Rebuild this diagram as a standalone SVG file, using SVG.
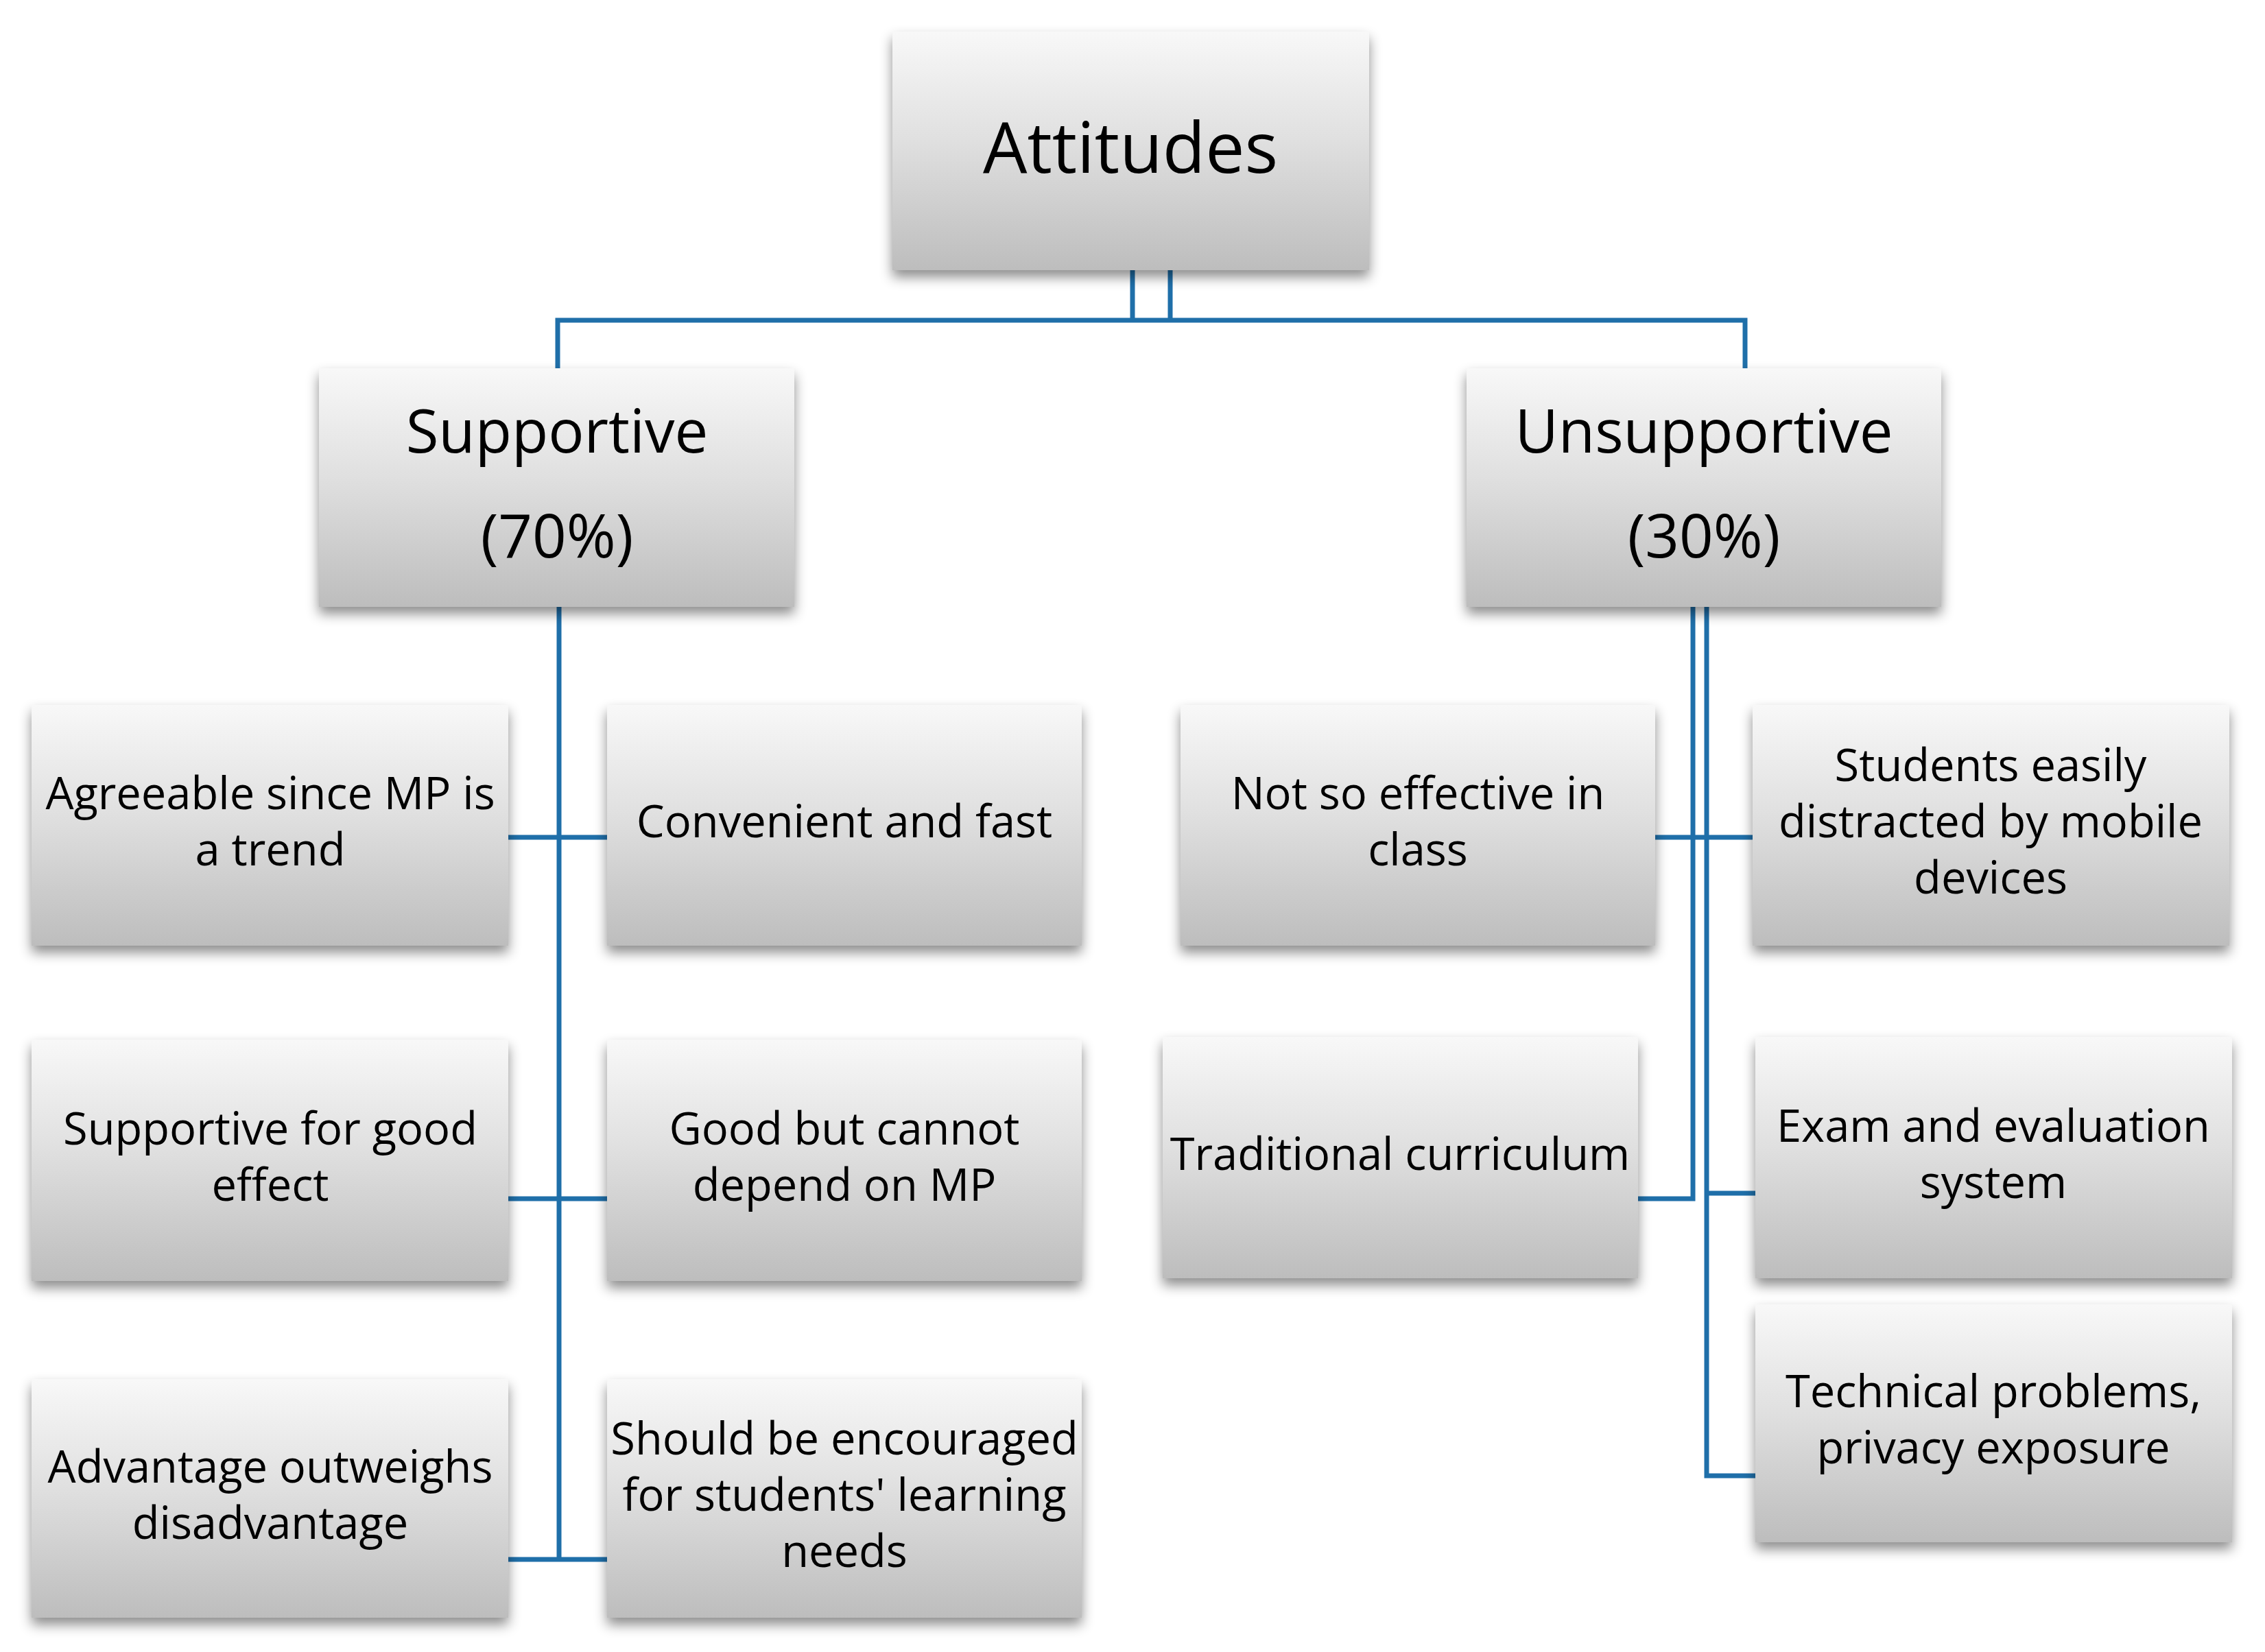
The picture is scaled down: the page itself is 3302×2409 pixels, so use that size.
<svg xmlns="http://www.w3.org/2000/svg" width="3302" height="2409" viewBox="0 0 3302 2409">
<style>
.box{fill:url(#g);filter:url(#sh)}
.t{font-family:"Open Sans","Noto Sans",sans-serif;font-size:65px;fill:#000;text-anchor:middle}
.big{font-size:87px}
.top{font-size:102px}
.c{fill:none;stroke:#1F6FA9;stroke-width:7}
</style>
<defs>
<linearGradient id="g" x1="0" y1="0" x2="0" y2="1">
<stop offset="0" stop-color="#f8f8f8"/>
<stop offset="0.45" stop-color="#e0e0e0"/>
<stop offset="1" stop-color="#bdbdbd"/>
</linearGradient>
<filter id="sh" x="-10%" y="-10%" width="120%" height="130%">
<feDropShadow dx="0" dy="10" stdDeviation="9" flood-color="#000" flood-opacity="0.45"/>
</filter>
</defs>
<rect width="3302" height="2409" fill="#fff"/>
<g id="connectors">
<path class="c" d="M1651 394V467M1706 394V467"/>
<path class="c" d="M813 537V467H2544V537"/>
<path class="c" stroke-width="11" d="M815 885V2277"/>
<path class="c" d="M741 1221H885M741 1748H885M741 2274H885"/>
<path class="c" d="M2468 885V1748H2388"/>
<path class="c" stroke-width="12" d="M2488 885V1221"/>
<path class="c" d="M2488 1221V2152H2559"/>
<path class="c" d="M2413 1221H2555"/>
<path class="c" d="M2488 1740H2559"/>
</g>
<g id="attitudes"><rect class="box" x="1301" y="46" width="695" height="348"/><text class="t top" x="1648" y="252">Attitudes</text></g>
<g id="supportive"><rect class="box" x="465" y="537" width="693" height="348"/><text class="t big" x="812" y="660">Supportive</text><text class="t big" x="812" y="813">(70%)</text></g>
<g id="unsupportive"><rect class="box" x="2138" y="537" width="692" height="348"/><text class="t big" x="2484" y="660">Unsupportive</text><text class="t big" x="2484" y="813">(30%)</text></g>
<g id="agreeable"><rect class="box" x="46" y="1028" width="695" height="351"/><text class="t" x="394" y="1180">Agreeable since MP is</text><text class="t" x="394" y="1262">a trend</text></g>
<g id="convenient"><rect class="box" x="885" y="1028" width="692" height="351"/><text class="t" x="1231" y="1221">Convenient and fast</text></g>
<g id="supportive-good"><rect class="box" x="46" y="1516" width="695" height="352"/><text class="t" x="394" y="1669">Supportive for good</text><text class="t" x="394" y="1751">effect</text></g>
<g id="good-but"><rect class="box" x="885" y="1516" width="692" height="352"/><text class="t" x="1231" y="1669">Good but cannot</text><text class="t" x="1231" y="1751">depend on MP</text></g>
<g id="advantage"><rect class="box" x="46" y="2011" width="695" height="348"/><text class="t" x="394" y="2162">Advantage outweighs</text><text class="t" x="394" y="2244">disadvantage</text></g>
<g id="encouraged"><rect class="box" x="885" y="2011" width="692" height="348"/><text class="t" x="1231" y="2121">Should be encouraged</text><text class="t" x="1231" y="2203">for students' learning</text><text class="t" x="1231" y="2285">needs</text></g>
<g id="not-effective"><rect class="box" x="1721" y="1028" width="692" height="351"/><text class="t" x="2067" y="1180">Not so effective in</text><text class="t" x="2067" y="1262">class</text></g>
<g id="distracted"><rect class="box" x="2555" y="1028" width="695" height="351"/><text class="t" x="2902" y="1139">Students easily</text><text class="t" x="2902" y="1221">distracted by mobile</text><text class="t" x="2902" y="1303">devices</text></g>
<g id="traditional"><rect class="box" x="1695" y="1512" width="693" height="352"/><text class="t" x="2041" y="1706">Traditional curriculum</text></g>
<g id="exam"><rect class="box" x="2559" y="1512" width="695" height="352"/><text class="t" x="2906" y="1665">Exam and evaluation</text><text class="t" x="2906" y="1747">system</text></g>
<g id="technical"><rect class="box" x="2559" y="1902" width="695" height="347"/><text class="t" x="2906" y="2052">Technical problems,</text><text class="t" x="2906" y="2134">privacy exposure</text></g>
</svg>
